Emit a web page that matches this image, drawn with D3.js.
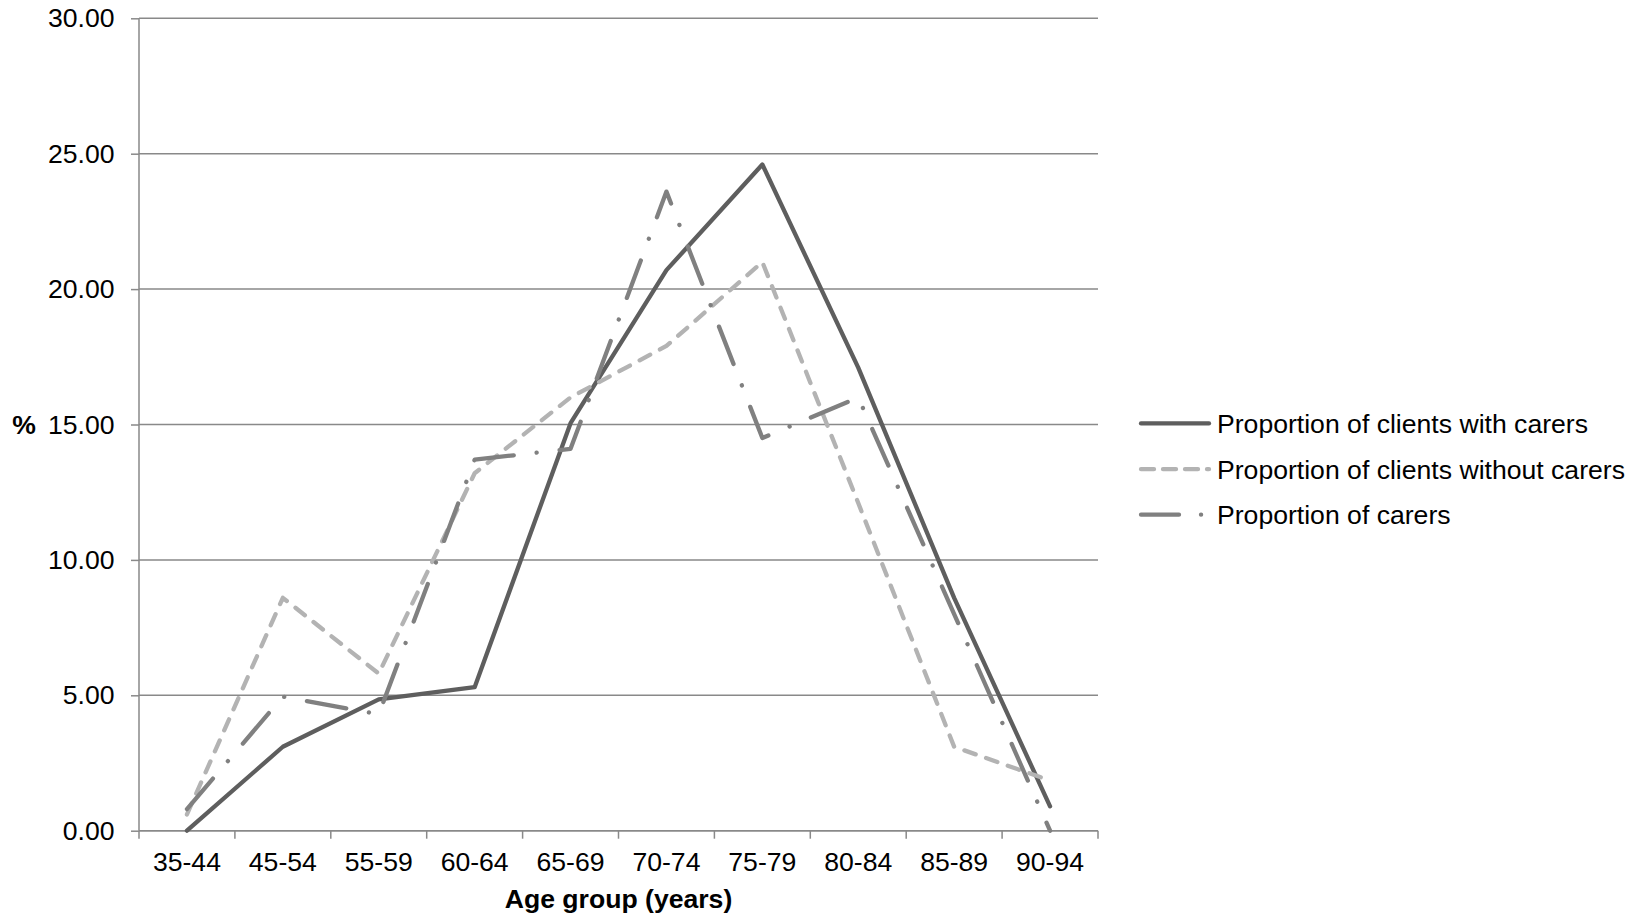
<!DOCTYPE html>
<html>
<head>
<meta charset="utf-8">
<script src="https://cdn.jsdelivr.net/npm/d3@7"></script>
<style>
  html, body { margin: 0; padding: 0; background: #fff; }
  svg { display: block; font-family: "Liberation Sans", Arial, sans-serif; }
</style>
</head>
<body>
<svg id="chart" width="1644" height="918"></svg>
<script>
const categories = ["35-44","45-54","55-59","60-64","65-69","70-74","75-79","80-84","85-89","90-94"];
const withCarers    = [0.0, 3.1, 4.85, 5.3, 15.05, 20.7, 24.6, 17.1, 8.6, 0.9];
const withoutCarers = [0.6, 8.6, 5.8, 13.2, 16.0, 17.9, 21.0, 12.1, 3.1, 1.85];
const carers        = [0.8, 4.95, 4.3, 13.7, 14.1, 23.6, 14.5, 16.0, 8.0, 0.0];
const yTicks = [0, 5, 10, 15, 20, 25, 30];
const seriesNames = ["Proportion of clients with carers", "Proportion of clients without carers", "Proportion of carers"];

const series = [
  { name: seriesNames[0], values: withCarers, color: "#5e5e5e", width: 4.3, dash: null, cap: "round" },
  { name: seriesNames[1], values: withoutCarers, color: "#b3b3b3", width: 4.3, dash: "12,11", cap: "round" },
  { name: seriesNames[2], values: carers, color: "#808080", width: 4.3, dash: "40,23,0.1,23", cap: "round" }
];

const FS = 26.6;
const svg = d3.select("#chart");
const pLeft = 139, pRight = 1098, pTop = 18.3, pBottom = 830.7;

const x = d3.scaleBand().domain(categories).range([pLeft, pRight]).padding(0);
const y = d3.scaleLinear().domain([0, 30]).range([pBottom, pTop]);

const gridColor = "#898989";

// gridlines
svg.append("g").selectAll("line").data(yTicks).join("line")
  .attr("x1", pLeft).attr("x2", pRight)
  .attr("y1", d => y(d)).attr("y2", d => y(d))
  .attr("stroke", gridColor).attr("stroke-width", 1.5);

// y axis
const yAxis = svg.append("g").attr("transform", `translate(${pLeft},0)`)
  .call(d3.axisLeft(y).tickValues(yTicks).tickFormat(d3.format(".2f")).tickSize(8).tickPadding(16.5));
yAxis.select(".domain").attr("stroke", gridColor).attr("stroke-width", 1.5).attr("d", `M0,${pBottom}V${pTop}`);
yAxis.selectAll(".tick line").attr("stroke", gridColor).attr("stroke-width", 1.5);
yAxis.selectAll(".tick text").attr("font-size", FS).attr("fill", "#000")
  .attr("font-family", "Liberation Sans, Arial, sans-serif");

// x axis: labels at category centers
const xAxis = svg.append("g").attr("transform", `translate(0,${pBottom})`)
  .call(d3.axisBottom(x).tickSize(0));
xAxis.select(".domain").attr("stroke", gridColor).attr("stroke-width", 1.5).attr("d", `M${pLeft},0H${pRight}`);
xAxis.selectAll(".tick text").attr("font-size", FS).attr("fill", "#000")
  .attr("font-family", "Liberation Sans, Arial, sans-serif")
  .attr("y", 40).attr("dy", null);
// boundary tick marks
const bounds = categories.map(c => x(c)).concat([x.range()[1]]);
svg.append("g").selectAll("line").data(bounds).join("line")
  .attr("x1", d => d).attr("x2", d => d)
  .attr("y1", pBottom).attr("y2", pBottom + 8)
  .attr("stroke", gridColor).attr("stroke-width", 1.5);

// axis titles
svg.append("text").attr("x", (pLeft + pRight) / 2).attr("y", 907.5)
  .attr("text-anchor", "middle").attr("font-size", FS).attr("font-weight", "bold")
  .text("Age group (years)");
svg.append("text").attr("x", 24).attr("y", y(15)).attr("dy", "0.35em")
  .attr("text-anchor", "middle").attr("font-size", FS).attr("font-weight", "bold")
  .text("%");

// lines
const line = d3.line()
  .x((d, i) => x(categories[i]) + x.bandwidth() / 2)
  .y(d => y(d));

series.forEach(s => {
  svg.append("path")
    .datum(s.values)
    .attr("d", line)
    .attr("fill", "none")
    .attr("stroke", s.color)
    .attr("stroke-width", s.width)
    .attr("stroke-linejoin", "round")
    .attr("stroke-linecap", s.cap)
    .attr("stroke-dasharray", s.dash);
});

// legend
const legendY = [423.4, 469.2, 514.7];
const lg = svg.append("g");
series.forEach((s, i) => {
  lg.append("line")
    .attr("x1", 1141).attr("x2", 1209)
    .attr("y1", legendY[i]).attr("y2", legendY[i])
    .attr("stroke", s.color).attr("stroke-width", s.width)
    .attr("stroke-linecap", s.cap)
    .attr("stroke-dasharray", i === 1 ? "13,9" : (i === 2 ? "38,22,0.1,40" : null));
  lg.append("text")
    .attr("x", 1217).attr("y", legendY[i]).attr("dy", "0.35em")
    .attr("font-size", FS).attr("fill", "#000")
    .text(s.name);
});
</script>
</body>
</html>
